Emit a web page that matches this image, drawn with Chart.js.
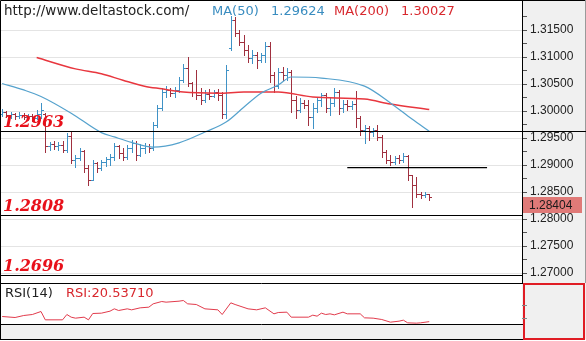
<!DOCTYPE html>
<html>
<head>
<meta charset="utf-8">
<script src="https://cdn.jsdelivr.net/npm/chart.js@4.4.0/dist/chart.umd.min.js"></script>
<style>
  html, body { margin: 0; padding: 0; background: #fff; }
  #wrap { position: relative; width: 586px; height: 341px; overflow: hidden; }
  #priceBox { position: absolute; left: 0; top: 0; width: 586px; height: 283px; }
  #rsiBox { position: absolute; left: 0; top: 283px; width: 586px; height: 58px; }
</style>
</head>
<body>
<div id="wrap">
  <div id="priceBox"><canvas id="price" width="586" height="283"></canvas></div>
  <div id="rsiBox"><canvas id="rsi" width="586" height="58"></canvas></div>
</div>
<script>
// hourly bars, oldest first
const opens = [1.2994,1.2998,1.2993,1.2994,1.2991,1.2993,1.2989,1.2991,1.2987,1.2994,
  1.2994,1.2935,1.2939,1.2935,1.2937,1.2928,1.2954,1.2909,1.2913,1.2926,
  1.2894,1.2872,1.2904,1.2894,1.2906,1.2911,1.2915,1.2935,1.2922,1.2915,
  1.2931,1.2941,1.2919,1.2931,1.2935,1.2931,1.2974,1.3006,1.3035,1.3039,
  1.3033,1.3039,1.3058,1.3080,1.3052,1.3035,1.3030,1.3020,1.3032,1.3028,
  1.3035,1.3030,1.2994,1.3117,1.3169,1.3145,1.3128,1.3113,1.3098,1.3104,
  1.3095,1.3104,1.3120,1.3067,1.3046,1.3072,1.3067,1.3072,1.3020,1.3002,
  1.3015,1.3011,1.2989,1.3006,1.3020,1.3030,1.3006,1.3015,1.3035,1.3006,
  1.3013,1.3009,1.3013,1.2987,1.2965,1.2969,1.2961,1.2965,1.2952,1.2924,
  1.2909,1.2906,1.2913,1.2909,1.2917,1.2882,1.2863,1.2847,1.2845,1.2847];
const highs = [1.3004,1.3000,1.2998,1.2996,1.2998,1.2996,1.2994,1.2994,1.3002,1.3015,
  1.2996,1.2943,1.2944,1.2943,1.2944,1.2959,1.2961,1.2918,1.2931,1.2928,
  1.2900,1.2909,1.2906,1.2909,1.2915,1.2920,1.2941,1.2937,1.2931,1.2937,
  1.2946,1.2944,1.2939,1.2941,1.2939,1.2980,1.3011,1.3043,1.3046,1.3043,
  1.3044,1.3063,1.3087,1.3100,1.3054,1.3076,1.3043,1.3039,1.3041,1.3039,
  1.3041,1.3035,1.3085,1.3176,1.3174,1.3150,1.3141,1.3122,1.3113,1.3109,
  1.3107,1.3128,1.3128,1.3072,1.3080,1.3082,1.3080,1.3076,1.3028,1.3024,
  1.3020,1.3020,1.3015,1.3026,1.3033,1.3033,1.3024,1.3043,1.3039,1.3020,
  1.3020,1.3019,1.3037,1.2991,1.2974,1.2972,1.2969,1.2974,1.2956,1.2928,
  1.2918,1.2917,1.2918,1.2922,1.2918,1.2882,1.2878,1.2850,1.2850,1.2847];
const lows = [1.2991,1.2989,1.2987,1.2985,1.2987,1.2985,1.2983,1.2981,1.2985,1.2987,
  1.2924,1.2928,1.2930,1.2928,1.2924,1.2924,1.2904,1.2896,1.2909,1.2887,
  1.2863,1.2872,1.2887,1.2891,1.2898,1.2900,1.2909,1.2913,1.2909,1.2911,
  1.2924,1.2909,1.2917,1.2922,1.2924,1.2928,1.2970,1.3002,1.3026,1.3028,
  1.3026,1.3035,1.3054,1.3046,1.3028,1.3022,1.3013,1.3017,1.3022,1.3026,
  1.3020,1.2987,1.2987,1.3113,1.3139,1.3122,1.3104,1.3091,1.3089,1.3080,
  1.3091,1.3091,1.3054,1.3035,1.3043,1.3058,1.3058,1.2998,1.2987,1.2998,
  1.3006,1.2974,1.2969,1.2998,1.3009,1.2998,1.2993,1.3009,1.2994,1.2998,
  1.3002,1.3004,1.2970,1.2956,1.2941,1.2946,1.2954,1.2946,1.2915,1.2904,
  1.2900,1.2902,1.2904,1.2906,1.2872,1.2822,1.2841,1.2839,1.2841,1.2836];
const closes = [1.2998,1.2993,1.2994,1.2991,1.2993,1.2989,1.2991,1.2987,1.2994,1.3002,
  1.2935,1.2939,1.2935,1.2937,1.2928,1.2954,1.2909,1.2913,1.2926,1.2894,
  1.2872,1.2904,1.2894,1.2906,1.2911,1.2915,1.2935,1.2922,1.2915,1.2931,
  1.2941,1.2919,1.2931,1.2935,1.2931,1.2974,1.3006,1.3035,1.3039,1.3033,
  1.3039,1.3058,1.3080,1.3052,1.3035,1.3030,1.3020,1.3032,1.3028,1.3035,
  1.3030,1.2994,1.3076,1.3169,1.3145,1.3128,1.3113,1.3098,1.3104,1.3095,
  1.3104,1.3120,1.3067,1.3046,1.3072,1.3067,1.3072,1.3020,1.3002,1.3015,
  1.3011,1.2989,1.3006,1.3020,1.3030,1.3006,1.3015,1.3035,1.3006,1.3013,
  1.3009,1.3013,1.2987,1.2965,1.2969,1.2961,1.2965,1.2952,1.2924,1.2909,
  1.2906,1.2913,1.2909,1.2917,1.2882,1.2863,1.2847,1.2845,1.2847,1.28404];

// moving averages (bar index -> value)
const maFastAt = [0,5,9,16,23,26,30,35,41,47,52,56,60,64,67,74,84,90,95,99];
const maFast = [1.3051,1.3039,1.3027,1.2996,1.2960,1.2952,1.2942,1.2933,1.2941,1.2961,
  1.2980,1.3007,1.3033,1.3048,1.3063,1.3061,1.3046,1.3015,1.2985,1.29624];
const maSlowAt = [8,17,23,28,33,37,42,50,56,64,72,84,90,99];
const maSlow = [1.3099,1.3078,1.3069,1.3057,1.3046,1.3041,1.3035,1.3033,1.3035,1.3035,
  1.3026,1.3022,1.3013,1.30027];

// RSI(14)
const rsiAt = [0,3,5,7,9,10,14,15,16,17,19,20,21,23,25,26,27,29,30,32,34,35,37,38,41,42,43,45,47,50,
  51,53,54,57,59,61,63,64,66,67,71,72,73,74,75,76,77,79,80,83,84,86,88,90,92,93,94,96,97,99];
const rsi = [36,33,39,42,51,26,26,42,34,31,34,26,45,46,52,59,54,59,56,62,64,74,81,79,82,84,74,72,59,56,
  42,77,72,59,56,62,44,48,49,34,34,40,37,46,42,44,41,49,44,44,32,31,27,19,22,25,17,16,17,20.5371];

// support / resistance levels and the short trend line
const levels = [1.2963, 1.2808, 1.2696];
const trendLevel = 1.2895;
const trendFrom = 80, trendTo = 112.4;

// right axis labels
const priceTicks = [1.27, 1.275, 1.28, 1.285, 1.29, 1.295, 1.30, 1.305, 1.31, 1.315];
const rsiTicks = [30, 70];

const upColor = '#3f92c6';
const downColor = '#a0303f';
const axisWidth = 64;

const fixWidth = scale => { scale.width = axisWidth; };

const ohlcBars = {
  id: 'ohlcBars',
  beforeDatasetsDraw(chart) {
    const { ctx, chartArea: a, scales: { x, y } } = chart;
    ctx.save();
    ctx.beginPath();
    ctx.rect(a.left, a.top, a.width, a.height);
    ctx.clip();
    for (let i = 0; i < closes.length; i++) {
      const px = Math.round(x.getPixelForValue(i));
      const yh = Math.round(y.getPixelForValue(highs[i]));
      const yl = Math.round(y.getPixelForValue(lows[i]));
      const yo = Math.round(y.getPixelForValue(opens[i]));
      const yc = Math.round(y.getPixelForValue(closes[i]));
      ctx.fillStyle = closes[i] >= opens[i] ? upColor : downColor;
      ctx.fillRect(px, yh, 1, yl - yh + 1);
      ctx.fillRect(px - 2, yo, 2, 1);
      ctx.fillRect(px + 1, yc, 2, 1);
    }
    ctx.restore();
  }
};

const priceFrame = {
  id: 'priceFrame',
  beforeDraw(chart) {
    const { ctx, chartArea: a, width, height } = chart;
    ctx.save();
    ctx.fillStyle = '#fff';
    ctx.fillRect(0, 0, width, height);
    ctx.fillStyle = '#f0f0f0';
    ctx.fillRect(a.right, 0, width - a.right, height);
    ctx.restore();
  },
  afterDraw(chart) {
    const { ctx, chartArea: a, width, height, scales: { y } } = chart;
    ctx.save();
    // outer frame
    ctx.strokeStyle = '#000';
    ctx.lineWidth = 1;
    ctx.beginPath();
    ctx.moveTo(0.5, height);
    ctx.lineTo(0.5, 0.5);
    ctx.lineTo(width, 0.5);
    ctx.moveTo(a.right + 0.5, 0);
    ctx.lineTo(a.right + 0.5, height);
    ctx.stroke();
    ctx.strokeStyle = '#9a9a9a';
    ctx.beginPath();
    ctx.moveTo(width - 0.5, 0);
    ctx.lineTo(width - 0.5, height);
    ctx.stroke();

    // levels with their labels
    levels.forEach((v, k) => {
      const py = Math.round(y.getPixelForValue(v)) + 0.5;
      ctx.strokeStyle = '#000';
      ctx.beginPath();
      ctx.moveTo(a.left, py);
      ctx.lineTo(k === 0 ? width : a.right, py);
      ctx.stroke();
      ctx.font = 'bold italic 16px "DejaVu Serif"';
      ctx.fillStyle = '#e8101a';
      ctx.textBaseline = 'alphabetic';
      ctx.fillText(v.toFixed(4), 3, py - 4.5);
    });

    // title line
    ctx.textBaseline = 'alphabetic';
    ctx.font = '13.5px "DejaVu Sans"';
    ctx.fillStyle = '#222';
    ctx.fillText('http://www.deltastock.com/', 4, 15);
    ctx.font = '13px "DejaVu Sans"';
    ctx.fillStyle = '#3a8dc0';
    ctx.fillText('MA(50)', 212, 15);
    ctx.fillText(maFast[maFast.length - 1].toFixed(5), 271, 15);
    ctx.fillStyle = '#d8282e';
    ctx.fillText('MA(200)', 334, 15);
    ctx.fillText(maSlow[maSlow.length - 1].toFixed(5), 401, 15);

    // last price marker on the axis
    const last = closes[closes.length - 1];
    const ly = Math.round(y.getPixelForValue(last));
    ctx.fillStyle = '#e07a78';
    ctx.fillRect(a.right + 1, ly, 59, 16);
    ctx.fillStyle = '#1a1a1a';
    ctx.font = '12px "Liberation Sans"';
    ctx.textBaseline = 'middle';
    ctx.fillText(last.toFixed(5), a.right + 7, ly + 8.5);
    ctx.restore();
  }
};

const rsiFrame = {
  id: 'rsiFrame',
  beforeDraw(chart) {
    const { ctx, chartArea: a, width, height } = chart;
    ctx.save();
    ctx.fillStyle = '#fff';
    ctx.fillRect(0, 0, width, height);
    // strip under the panel
    ctx.fillStyle = '#f0f0f0';
    ctx.fillRect(0, a.bottom, a.right, 15);
    ctx.fillRect(a.right, 0, width - a.right, 56);
    ctx.strokeStyle = '#e01c24';
    ctx.lineWidth = 2;
    ctx.strokeRect(a.right + 2, 1, width - a.right - 4, 55);
    ctx.strokeStyle = '#000';
    ctx.lineWidth = 1;
    ctx.beginPath();
    ctx.moveTo(0, 0.5); ctx.lineTo(a.right + 1, 0.5);
    ctx.moveTo(0.5, 0); ctx.lineTo(0.5, 56);
    ctx.moveTo(0, a.bottom + 0.5); ctx.lineTo(a.right + 1, a.bottom + 0.5);
    ctx.moveTo(0, a.bottom + 15.5); ctx.lineTo(a.right + 1, a.bottom + 15.5);
    ctx.stroke();
    ctx.restore();
  },
  afterDraw(chart) {
    const { ctx } = chart;
    ctx.save();
    ctx.font = '13px "DejaVu Sans"';
    ctx.textBaseline = 'alphabetic';
    ctx.fillStyle = '#222';
    ctx.fillText('RSI(14)', 5, 14);
    ctx.fillStyle = '#d8282e';
    ctx.fillText('RSI:' + rsi[rsi.length - 1].toFixed(5), 66, 14);
    ctx.restore();
  }
};

const xAxis = { type: 'linear', min: -0.5, max: 120.5, display: false };

new Chart(document.getElementById('price'), {
  type: 'line',
  data: {
    datasets: [
      {
        label: 'MA(50)',
        data: maFastAt.map((i, k) => ({ x: i, y: maFast[k] })),
        borderColor: '#55a2cd',
        borderWidth: 1.2,
        pointRadius: 0,
        cubicInterpolationMode: 'monotone'
      },
      {
        label: 'MA(200)',
        data: maSlowAt.map((i, k) => ({ x: i, y: maSlow[k] })),
        borderColor: '#e8363e',
        borderWidth: 1.5,
        pointRadius: 0,
        cubicInterpolationMode: 'monotone'
      },
      {
        label: 'trend',
        data: [{ x: trendFrom, y: trendLevel }, { x: trendTo, y: trendLevel }],
        borderColor: '#000',
        borderWidth: 1.2,
        pointRadius: 0
      }
    ]
  },
  options: {
    responsive: false,
    animation: false,
    devicePixelRatio: 1,
    layout: { padding: 0 },
    plugins: { legend: { display: false }, tooltip: { enabled: false } },
    scales: {
      x: xAxis,
      y: {
        type: 'linear',
        position: 'right',
        // plot area runs from y=3 to y=280 once the 3px tick padding is taken
        min: 1.268704,
        max: 1.32,
        afterFit: fixWidth,
        afterBuildTicks(scale) {
          const t = [];
          priceTicks.forEach(v => { t.push({ value: v }); t.push({ value: v + 0.0025 }); });
          scale.ticks = t;
        },
        border: { display: true, color: '#333', width: 1 },
        grid: {
          color: c => (c.tick && c.index % 2 === 0 ? '#e4e4e4' : 'rgba(0,0,0,0)'),
          tickColor: '#555',
          tickLength: 5
        },
        ticks: {
          autoSkip: false,
          padding: 3,
          color: '#222',
          font: { family: 'Liberation Sans', size: 12, lineHeight: 0 },
          callback: (v, i) => (i % 2 === 0 ? v.toFixed(5) : '')
        }
      }
    }
  },
  plugins: [priceFrame, ohlcBars]
});

new Chart(document.getElementById('rsi'), {
  type: 'line',
  data: {
    datasets: [{
      label: 'RSI',
      data: rsiAt.map((i, k) => ({ x: i, y: rsi[k] })),
      borderColor: '#e23b4c',
      borderWidth: 1,
      pointRadius: 0
    }]
  },
  options: {
    responsive: false,
    animation: false,
    devicePixelRatio: 1,
    layout: { padding: { top: 0, left: 0, right: 0, bottom: 17 } },
    plugins: { legend: { display: false }, tooltip: { enabled: false } },
    scales: {
      x: xAxis,
      y: {
        type: 'linear',
        position: 'right',
        min: 13.5,
        max: 136.5,
        afterFit: fixWidth,
        afterBuildTicks(scale) { scale.ticks = rsiTicks.map(v => ({ value: v })); },
        border: { display: false },
        grid: { drawOnChartArea: false, tickColor: '#888', tickLength: 5 },
        ticks: { autoSkip: false, padding: 0, font: { lineHeight: 0 }, callback: () => '' }
      }
    }
  },
  plugins: [rsiFrame]
});
</script>
</body>
</html>
